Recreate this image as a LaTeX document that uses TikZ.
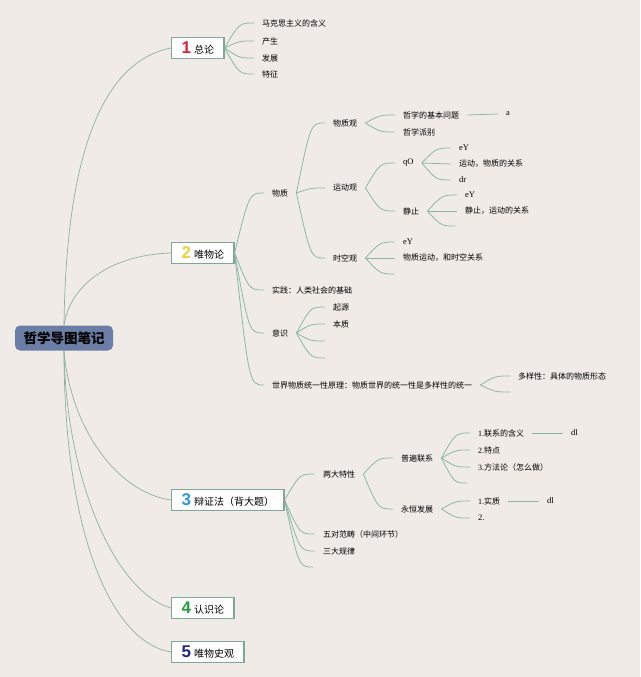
\documentclass[tikz,border=0pt]{standalone}
\usepackage{fontspec}
\setmainfont{Liberation Serif}
\newfontfamily\cjk{Noto Sans CJK SC}
\newfontfamily\numfont{Liberation Sans}
\usepackage{tikz}
\usetikzlibrary{positioning,calc}
\definecolor{paper}{HTML}{F0EBE7}
\definecolor{twig}{HTML}{86B6A4}
\definecolor{trunkc}{HTML}{8FB0A2}
\definecolor{frame}{HTML}{7DA898}
\definecolor{slate}{HTML}{6B7EA6}
\definecolor{numred}{HTML}{E0203C}
\definecolor{numyellow}{HTML}{F2D13C}
\definecolor{numblue}{HTML}{2B9BDA}
\definecolor{numgreen}{HTML}{23A23A}
\definecolor{numnavy}{HTML}{24287E}
\newcommand{\tnum}[2]{{\numfont\bfseries\fontsize{17}{17}\selectfont\color{#1}#2}\hspace{3pt}}

\begin{document}
\begin{tikzpicture}[
    x=1pt, y=-1pt,
    root/.style={fill=slate, rounded corners=5pt, minimum width=98pt, minimum height=25pt, inner sep=0pt, font=\cjk\bfseries\fontsize{13.5}{14}\selectfont},
    topic/.style={draw=frame, line width=1.1pt, fill=white, anchor=west, minimum height=21pt, inner xsep=10pt, inner ysep=0pt, font=\cjk\fontsize{10}{10}\selectfont},
    leaf/.style={anchor=west, inner xsep=8pt, inner ysep=1pt, font=\cjk\fontsize{8}{9}\selectfont},
    lat/.style={anchor=west, inner xsep=8pt, inner ysep=1pt, font=\fontsize{8.5}{9}\selectfont},
    trunk/.style={draw=trunkc, line width=0.7pt},
    link/.style={draw=twig, line width=0.75pt},
    fan/.style={to path={.. controls ($(\tikztostart |- \tikztotarget)!0.5!(\tikztotarget)$) .. (\tikztotarget)}}
]
    \fill[paper] (0,0) rectangle (640,677);
    \useasboundingbox (0,0) rectangle (640,677);

    % Root and main topics
    \node[root] (root) at (64,338) {哲学导图笔记};
    \node[topic] (t1) at (171,48) {\tnum{numred}{1}总论};
    \node[topic] (t2) at (171,253) {\tnum{numyellow}{2}唯物论};
    \node[topic] (t3) at (171,500) {\tnum{numblue}{3}辩证法（背大题）};
    \node[topic] (t4) at (171,608) {\tnum{numgreen}{4}认识论};
    \node[topic] (t5) at (171,652) {\tnum{numnavy}{5}唯物史观};

    % 1 总论
    \node[leaf] (hanyi) at (254,23) {马克思主义的含义};
    \node[leaf] (chansheng) at (254,41) {产生};
    \node[leaf] (fazhan) at (254,58) {发展};
    \node[leaf] (tezheng) at (254,74) {特征};

    % 2 唯物论
    \node[leaf] (wuzhi) at (264,193) {物质};
    \node[leaf] (shijian) at (264,290) {实践：人类社会的基础};
    \node[leaf] (yishi) at (264,333) {意识};
    \node[leaf] (tongyi) at (264,385) {世界物质统一性原理：物质世界的统一性是多样性的统一};

    \node[leaf] (wzg) at (325,123) {物质观};
    \node[leaf] (ydg) at (325,188) {运动观};
    \node[leaf] (skg) at (325,258) {时空观};

    \node[leaf] (jbwt) at (395,115) {哲学的基本问题};
    \node[leaf] (pbie) at (395,132) {哲学派别};
    \node[lat] (jbwt_a) at (498,114) {a};

    \node[lat] (qo) at (395,163) {qO};
    \node[leaf] (jz) at (395,211) {静止};
    \node[lat] (qo_1) at (451,148) {eY};
    \node[leaf] (qo_2) at (451,164) {运动，物质的关系};
    \node[lat] (qo_3) at (451,180) {dr};
    \node[lat] (jz_1) at (457,195) {eY};
    \node[leaf] (jz_2) at (457,211) {静止，运动的关系};
    \coordinate (jz_3) at (455,226);

    \node[lat] (skg_1) at (395,242) {eY};
    \node[leaf] (skg_2) at (395,258) {物质运动，和时空关系};
    \coordinate (skg_3) at (395,274);

    \node[leaf] (qiyuan) at (325,307) {起源};
    \node[leaf] (benzhi) at (325,324) {本质};
    \coordinate (yishi_3) at (325,341);
    \coordinate (yishi_4) at (325,358);

    \node[leaf] (duoyang) at (510,376) {多样性：具体的物质形态};
    \coordinate (tongyi_2) at (510,392);

    % 3 辩证法
    \node[leaf] (ldtx) at (315,474) {两大特性};
    \node[leaf] (wdfc) at (315,534) {五对范畴（中间环节）};
    \node[leaf] (sdgl) at (315,551) {三大规律};
    \coordinate (t3_e) at (313,567);

    \node[leaf] (pblx) at (393,458) {普遍联系};
    \node[leaf] (yhfz) at (393,509) {永恒发展};

    \node[leaf] (lxhy) at (470,433) {{\rmfamily 1.}联系的含义};
    \node[leaf] (tedian) at (470,450) {{\rmfamily 2.}特点};
    \node[leaf] (ffl) at (470,467) {{\rmfamily 3.}方法论（怎么做）};
    \coordinate (pblx_e) at (467,483);
    \node[lat] (lxhy_dl) at (563,433) {dl};

    \node[leaf] (shizhi) at (470,501) {{\rmfamily 1.}实质};
    \node[lat] (yhfz_2) at (470,518) {2.};
    \node[lat] (shizhi_dl) at (539,501) {dl};

    % Trunk curves
    \draw[trunk] (root.north) .. controls (66,160) and (100,62) .. (t1.west);
    \draw[trunk] (root.north) .. controls (70,285) and (110,255) .. (t2.west);
    \draw[trunk] (root.south) .. controls (70,425) and (115,492) .. (t3.west);
    \draw[trunk] (root.south) .. controls (66,480) and (115,592) .. (t4.west);
    \draw[trunk] (root.south) .. controls (64,530) and (110,642) .. (t5.west);

    % Branches
    \draw[link] (t1.east) to[fan] (hanyi.west); \draw[link] (t1.east) to[fan] (chansheng.west);
    \draw[link] (t1.east) to[fan] (fazhan.west); \draw[link] (t1.east) to[fan] (tezheng.west);

    \draw[link] (t2.east) to[fan] (wuzhi.west); \draw[link] (t2.east) to[fan] (shijian.west);
    \draw[link] (t2.east) to[fan] (yishi.west); \draw[link] (t2.east) to[fan] (tongyi.west);

    \draw[link] (wuzhi.east) to[fan] (wzg.west); \draw[link] (wuzhi.east) to[fan] (ydg.west);
    \draw[link] (wuzhi.east) to[fan] (skg.west);
    \draw[link] (wzg.east) to[fan] (jbwt.west); \draw[link] (wzg.east) to[fan] (pbie.west);
    \draw[link] (jbwt.east) -- (jbwt_a.west);
    \draw[link] (ydg.east) to[fan] (qo.west); \draw[link] (ydg.east) to[fan] (jz.west);
    \draw[link] (qo.east) to[fan] (qo_1.west); \draw[link] (qo.east) to[fan] (qo_2.west);
    \draw[link] (qo.east) to[fan] (qo_3.west);
    \draw[link] (jz.east) to[fan] (jz_1.west); \draw[link] (jz.east) to[fan] (jz_2.west);
    \draw[link] (jz.east) to[fan] (jz_3);
    \draw[link] (skg.east) to[fan] (skg_1.west); \draw[link] (skg.east) to[fan] (skg_2.west);
    \draw[link] (skg.east) to[fan] (skg_3);
    \draw[link] (yishi.east) to[fan] (qiyuan.west); \draw[link] (yishi.east) to[fan] (benzhi.west);
    \draw[link] (yishi.east) to[fan] (yishi_3); \draw[link] (yishi.east) to[fan] (yishi_4);
    \draw[link] (tongyi.east) to[fan] (duoyang.west); \draw[link] (tongyi.east) to[fan] (tongyi_2);

    \draw[link] (t3.east) to[fan] (ldtx.west); \draw[link] (t3.east) to[fan] (wdfc.west);
    \draw[link] (t3.east) to[fan] (sdgl.west); \draw[link] (t3.east) to[fan] (t3_e);
    \draw[link] (ldtx.east) to[fan] (pblx.west); \draw[link] (ldtx.east) to[fan] (yhfz.west);
    \draw[link] (pblx.east) to[fan] (lxhy.west); \draw[link] (pblx.east) to[fan] (tedian.west);
    \draw[link] (pblx.east) to[fan] (ffl.west); \draw[link] (pblx.east) to[fan] (pblx_e);
    \draw[link] (lxhy.east) -- (lxhy_dl.west);
    \draw[link] (yhfz.east) to[fan] (shizhi.west); \draw[link] (yhfz.east) to[fan] (yhfz_2.west);
    \draw[link] (shizhi.east) -- (shizhi_dl.west);
\end{tikzpicture}
\end{document}
